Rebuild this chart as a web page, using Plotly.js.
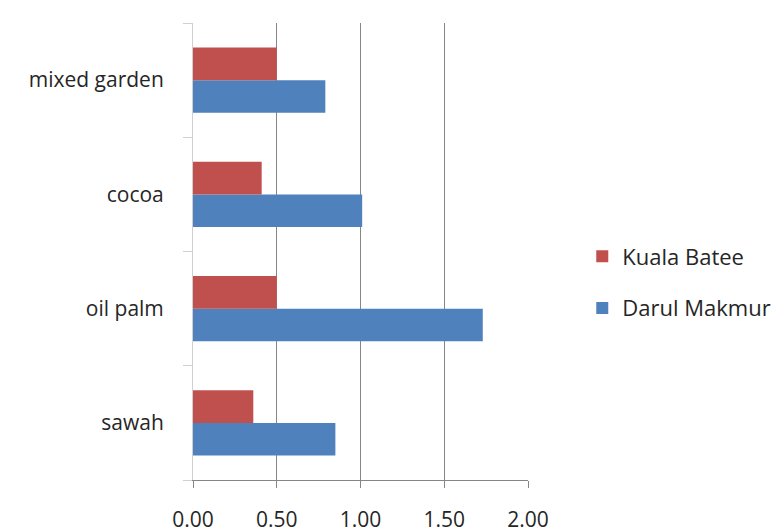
<!DOCTYPE html>
<html>
<head>
<meta charset="utf-8">
<script src="https://cdn.plot.ly/plotly-3.0.1.min.js"></script>
<style>
  html, body { margin: 0; padding: 0; background: #ffffff; }
  #chart { width: 782px; height: 532px; }
</style>
</head>
<body>
<div id="chart"></div>
<script>
// Land-use categories, listed bottom to top
const categories = ['sawah', 'oil palm', 'cocoa', 'mixed garden'];

// Values per site
const kualaBatee = [0.36, 0.50, 0.41, 0.50];
const darulMakmur = [0.85, 1.73, 1.01, 0.79];

// Value axis ticks
const tickValues = [0, 0.5, 1.0, 1.5, 2.0];
const tickLabels = ['0.00', '0.50', '1.00', '1.50', '2.00'];

const fontFamily = 'Open Sans, sans-serif';
const textColor = '#262626';

const traces = [
  {
    type: 'bar',
    orientation: 'h',
    name: 'Darul Makmur',
    y: categories,
    x: darulMakmur,
    marker: { color: '#4F81BD' },
    legendgroup: 'dm',
    legendrank: 2,
    hoverinfo: 'x+y+name'
  },
  {
    type: 'bar',
    orientation: 'h',
    name: 'Kuala Batee',
    y: categories,
    x: kualaBatee,
    marker: { color: '#C0504D' },
    legendgroup: 'kb',
    legendrank: 1,
    hoverinfo: 'x+y+name'
  }
];

const layout = {
  width: 782,
  height: 532,
  margin: { l: 193, r: 254, t: 23, b: 52, autoexpand: false },
  paper_bgcolor: '#ffffff',
  plot_bgcolor: '#ffffff',
  barmode: 'group',
  bargap: 0.43,
  bargroupgap: 0,
  font: { family: fontFamily, size: 21, color: textColor },
  showlegend: true,
  legend: {
    x: 1.162,
    xanchor: 'left',
    y: 0.535,
    yanchor: 'top',
    traceorder: 'grouped',
    tracegroupgap: 20,
    font: { family: fontFamily, size: 22, color: textColor },
    bgcolor: 'rgba(0,0,0,0)'
  },
  xaxis: {
    range: [0, 2],
    tickvals: tickValues,
    ticktext: tickLabels,
    showgrid: true,
    gridcolor: '#868686',
    gridwidth: 1,
    zeroline: false,
    showline: true,
    linecolor: '#868686',
    linewidth: 1,
    ticks: 'outside',
    ticklen: 7,
    tickcolor: '#868686',
    ticklabelstandoff: 14,
    tickfont: { family: fontFamily, size: 21, color: textColor },
    fixedrange: true
  },
  yaxis: {
    type: 'category',
    categoryorder: 'array',
    categoryarray: categories,
    showgrid: false,
    zeroline: false,
    showline: true,
    linecolor: '#D0D0D0',
    linewidth: 1,
    ticks: 'outside',
    tickson: 'boundaries',
    ticklen: 9,
    tickcolor: '#D0D0D0',
    ticklabelstandoff: 24,
    tickfont: { family: fontFamily, size: 21, color: textColor },
    fixedrange: true
  }
};

Plotly.newPlot('chart', traces, layout, { displayModeBar: false, staticPlot: true });
</script>
</body>
</html>
